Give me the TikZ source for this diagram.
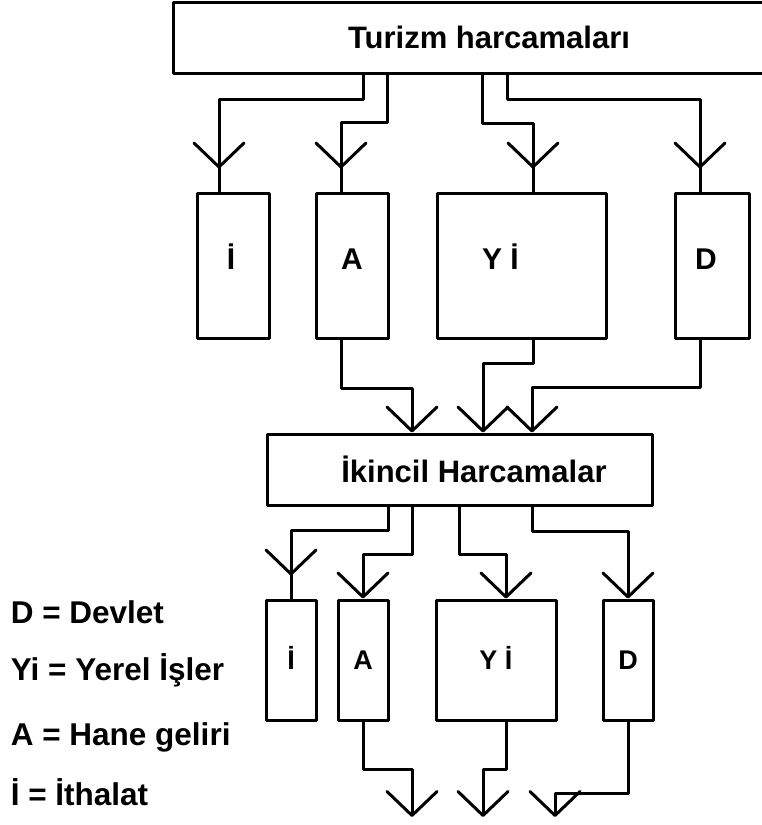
\documentclass[tikz,border=0pt]{standalone}
\usepackage{fontspec}
\setmainfont{Liberation Sans}
\usetikzlibrary{arrows.meta,decorations.markings}
\begin{document}
\begin{tikzpicture}[x=1pt,y=-1pt,>={Straight Barb[length=24pt,width=50pt,round]},line width=3pt,line join=round,line cap=round]
	\tikzset{kutu/.style={draw,rectangle,inner sep=0pt},
		baslik/.style={font=\bfseries\fontsize{31}{36}\selectfont},
		harf/.style={font=\bfseries\fontsize{30}{34}\selectfont,text height=21.5pt,text depth=0pt,yshift=7pt},
		kharf/.style={font=\bfseries\fontsize{27}{31}\selectfont,text height=19.5pt,text depth=0pt},
		aciklama/.style={anchor=base west,font=\bfseries\fontsize{31.5}{36}\selectfont},
		araok/.style={postaction={decorate,decoration={markings,mark=at position -23pt with {\arrow{>}}}}}}
	%%Sayfa sinirlari
	\useasboundingbox (0,0) rectangle (762,825);
	%%Kutular
	\node[kutu,baslik,minimum width=632pt,minimum height=71pt] (top) at (489,37.5) {Turizm harcamaları};
	\node[kutu,minimum width=72pt,minimum height=145pt,label={[harf,xshift=-2pt]center:İ}] (i1) at (233,265.5) {};
	\node[kutu,minimum width=72pt,minimum height=145pt,label={[harf]center:A}] (a1) at (352,265.5) {};
	\node[kutu,minimum width=169pt,minimum height=145pt,label={[harf,xshift=-21pt]center:Y İ}] (y1) at (521.5,265.5) {};
	\node[kutu,minimum width=74pt,minimum height=145pt,label={[harf,xshift=-6pt]center:D}] (d1) at (712,265.5) {};
	\node[kutu,minimum width=385pt,minimum height=71pt,label={[baslik,xshift=14.5pt]center:İkincil Harcamalar}] (box2) at (459.5,469.5) {};
	\node[kutu,kharf,minimum width=50pt,minimum height=120pt] (i2) at (291,660) {İ};
	\node[kutu,kharf,minimum width=50pt,minimum height=120pt] (a2) at (363,660) {A};
	\node[kutu,kharf,minimum width=120pt,minimum height=120pt] (y2) at (496,660) {Y İ};
	\node[kutu,kharf,minimum width=50pt,minimum height=120pt] (d2) at (628,660) {D};
	\coordinate (out1) at (412,817);
	\coordinate (out2) at (483,817);
	\coordinate (out3) at (555,817);
	%%Turizm harcamalari -> ilk sira
	\draw[araok] ([xshift=192pt]top.south west) -- ++(0,25) -| ([xshift=-14pt]i1.north);
	\draw[araok] ([xshift=216pt]top.south west) -- ++(0,48) -| ([xshift=-11pt]a1.north);
	\draw[araok] ([xshift=311pt]top.south west) -- ++(0,49) -| ([xshift=11.5pt]y1.north);
	\draw[araok] ([xshift=336pt]top.south west) -- ++(0,25) -| ([xshift=-12pt]d1.north);
	%%Ilk sira -> ikincil harcamalar
	\draw[->] ([xshift=-11pt]a1.south) -- ++(0,49) -| ([xshift=-47.5pt]box2.north);
	\draw[->] ([xshift=11.5pt]y1.south) -- ++(0,24) -| ([xshift=23.5pt]box2.north);
	\draw[->] ([xshift=-12pt]d1.south) -- ++(0,48) -| ([xshift=72.5pt]box2.north);
	%%Ikincil harcamalar -> ikinci sira
	\draw[araok] ([xshift=-71.5pt]box2.south) -- ++(0,24) -| (i2.north);
	\draw[->] ([xshift=-47.5pt]box2.south) -- ++(0,48) -| (a2.north);
	\draw[->] ([xshift=-0.5pt]box2.south) -- ++(0,48) -| ([xshift=10pt]y2.north);
	\draw[->] ([xshift=72.5pt]box2.south) -- ++(0,25) -| (d2.north);
	%%Ikinci sira -> disari
	\draw[->] (a2.south) -- ++(0,48) -| (out1);
	\draw[->] ([xshift=10pt]y2.south) -- ++(0,48) -| (out2);
	\draw[->] (d2.south) -- ++(0,72) -| (out3);
	%%Aciklamalar
	\node[aciklama] (lD) at (6,623) {D = Devlet};
	\node[aciklama] (lY) at (6,680) {Yi = Yerel İşler};
	\node[aciklama] (lA) at (6,745) {A = Hane geliri};
	\node[aciklama] (lI) at (6,805) {İ = İthalat};
\end{tikzpicture}
\end{document}
